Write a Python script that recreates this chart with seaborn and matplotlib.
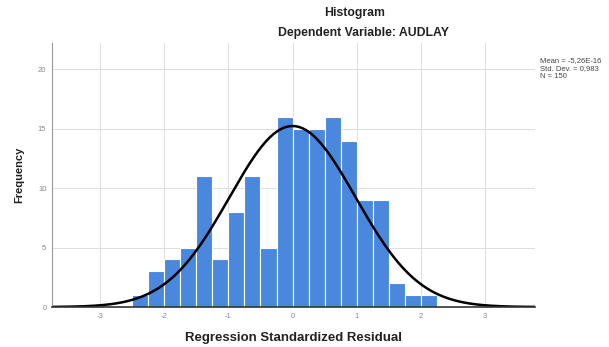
import numpy as np
import pandas as pd
import matplotlib
matplotlib.use("Agg")
import matplotlib.pyplot as plt
import seaborn as sns

# ---- data ----
bin_start = -2.5
bin_width = 0.25
counts = [1, 3, 4, 5, 11, 4, 8, 11, 5, 16, 15, 15, 16, 14, 9, 9, 2, 1, 1]
mean_val = 0.0
std_val = 0.983
n_total = 150
x_ticks = [-3, -2, -1, 0, 1, 2, 3]
y_ticks = [0, 5, 10, 15, 20]
title = "Histogram"
subtitle = "Dependent Variable: AUDLAY"
x_label = "Regression Standardized Residual"
y_label = "Frequency"
stats_lines = ["Mean = -5,26E-16", "Std. Dev. = 0,983", "N = 150"]

sns.set_theme(style="whitegrid")
plt.rcParams['font.family'] = ['Liberation Sans', 'DejaVu Sans']
plt.rcParams['axes.unicode_minus'] = False

n_bins = len(counts)
bin_end = bin_start + bin_width * n_bins
centers = bin_start + bin_width * (np.arange(n_bins) + 0.5)
df = pd.DataFrame({"residual": centers, "count": counts})

fig = plt.figure(figsize=(6.09, 3.47), dpi=100)
ax = fig.add_axes([52/609, 1 - 307/347, (535-52)/609, (307-43)/347])

sns.histplot(data=df, x="residual", weights="count", bins=n_bins,
             binrange=(bin_start, bin_end), ax=ax,
             color="#4A88DE", alpha=1.0, edgecolor="white", linewidth=0.8)

xs = np.linspace(-3.75, 3.78, 400)
ys = n_total * bin_width * np.exp(-0.5 * ((xs - mean_val) / std_val) ** 2) / (std_val * np.sqrt(2 * np.pi))
ax.plot(xs, ys, color="black", linewidth=1.8)

ax.set_xlim(-3.75, 3.78)
ax.set_ylim(0, 22.2)
ax.set_xticks(x_ticks)
ax.set_yticks(y_ticks)
ax.tick_params(axis='both', labelsize=5.5, colors="#888888", length=0, pad=4)
ax.grid(True, color="#DDDDDD", linewidth=0.7)
ax.set_axisbelow(True)
for s in ["top", "right"]:
    ax.spines[s].set_visible(False)
ax.spines["left"].set_color("#999999")
ax.spines["left"].set_linewidth(0.8)
ax.spines["bottom"].set_color("#333333")
ax.spines["bottom"].set_linewidth(1.2)

ax.set_xlabel(x_label, fontsize=9.5, fontweight="bold", color="#222222", labelpad=9)
ax.set_ylabel(y_label, fontsize=8, fontweight="bold", color="#222222", labelpad=10)

fig.text(355/609, 1 - 13/347, title, ha="center", va="center",
         fontsize=8.8, fontweight="bold", color="#222222")
fig.text(363/609, 1 - 33/347, subtitle, ha="center", va="center",
         fontsize=8.8, fontweight="bold", color="#222222")

for i, line in enumerate(stats_lines):
    fig.text(540/609, 1 - (61 + i * 7.5)/347, line, ha="left", va="center",
             fontsize=5.5, color="#444444")

fig.savefig("out.png", dpi=100)
